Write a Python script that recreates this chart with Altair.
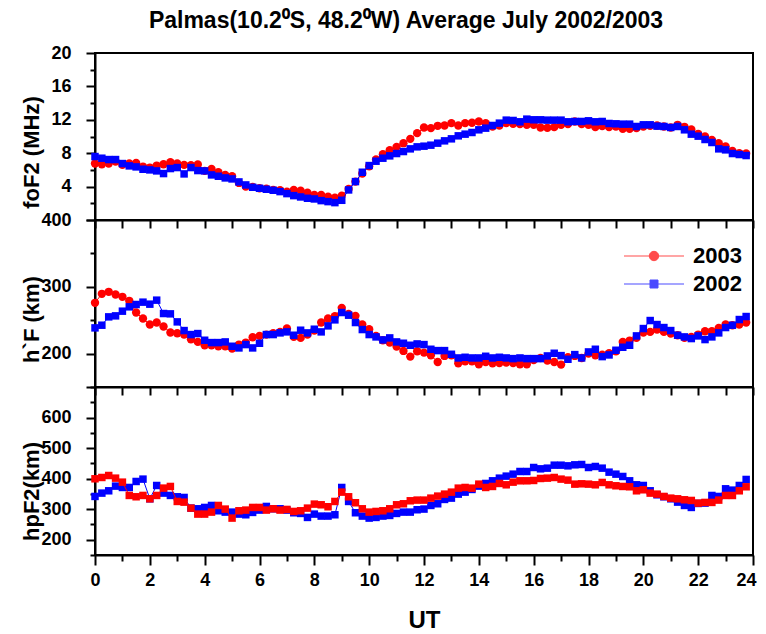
import altair as alt
import pandas as pd

# ---------------- data ----------------
UT = [q / 4 for q in range(96)]  # 15-minute sampling times, 0 .. 23.75 h

FOF2_2003 = [6.76, 6.68, 6.76, 7.0, 6.6, 6.76, 6.84, 6.4, 6.28, 6.52, 6.68, 6.92, 6.76, 6.6, 6.56, 6.64,
             5.88, 6.12, 5.72, 5.4, 5.24, 4.44, 4.0, 3.96, 3.8, 3.76, 3.6, 3.56, 3.4, 3.6, 3.52, 3.28,
             3.0, 3.0, 2.8, 2.68, 2.92, 3.72, 4.6, 5.56, 6.44, 7.24, 7.88, 8.36, 8.76,
             9.2, 9.72, 10.4, 11.08, 11.0, 11.28, 11.32, 11.6, 11.32, 11.6, 11.64, 11.8, 11.6, 11.2, 11.32,
             11.6, 11.52, 11.48, 11.4, 11.4, 11.08, 11.04, 11.12, 11.4, 11.48, 11.8, 11.48, 11.4, 11.12,
             11.24, 11.12, 11.2, 10.92, 10.92, 11.0, 11.2, 11.28, 11.32, 11.2, 11.08, 11.4, 11.16, 10.84,
             10.32, 10.0, 9.6, 9.2, 8.8, 8.28, 8.0, 7.96]
FOF2_2002 = [7.6, 7.4, 7.24, 7.24, 6.76, 6.48, 6.36, 6.08, 6.0, 5.88, 5.56, 6.16, 6.28, 5.52, 6.28, 5.92,
             5.88, 5.4, 5.24, 5.04, 4.92, 4.56, 4.2, 3.92, 3.8, 3.68, 3.56, 3.4, 3.16, 2.92, 2.76, 2.6,
             2.52, 2.32, 2.2, 2.08, 2.36, 3.6, 4.6, 5.72, 6.52, 7.04, 7.4, 7.68, 7.96,
             8.2, 8.52, 8.76, 8.84, 8.96, 9.2, 9.48, 9.72, 10.08, 10.28, 10.48, 10.8, 11.0, 11.32, 11.6,
             11.96, 11.92, 11.76, 12.08, 12.0, 12.0, 11.96, 11.96, 11.96, 11.76, 11.8, 11.8, 11.88, 11.76,
             11.8, 11.56, 11.52, 11.48, 11.48, 11.2, 11.4, 11.4, 11.24, 11.2, 11.08, 11.2, 10.8, 10.28,
             10.04, 9.64, 9.28, 8.52, 8.4, 7.96, 7.84, 7.72]
HF_2003 = [276, 289.5, 292.5, 288.5, 285, 279, 261.5, 252.5, 243.5, 246.5, 240.5, 231.5, 230.5, 228.5,
           221.5, 217.5, 212.5, 212.5, 211, 211, 207.5, 213.5, 216.5, 224.5, 226.5, 228.5, 230.5, 232.5,
           237.5, 225, 223.5, 228.5, 234.5, 246.5, 252.5, 256, 268.5, 259.5, 256.5, 243.5, 236.5, 226.5,
           220, 216.5, 210.5,
           204, 195.5, 203.5, 201.5, 197.5, 187.5, 196.5, 197.5, 185.5, 188.5, 188.5, 184, 187.5, 185.5,
           186, 186.5, 186, 184, 184, 190.5, 193.5, 189.5, 187.5, 183.5, 194.5, 196.5, 193.5, 200, 197.5,
           198.5, 200.5, 203.5, 217.5, 219.5, 223.5, 231.5, 232.5, 236, 232.5, 230, 227.5, 223.5, 225,
           228.5, 233.5, 233.5, 238.5, 243.5, 242.5, 243.5, 246.5]
HF_2002 = [238.5, 242.5, 255, 256.5, 263.5, 270, 273.5, 277, 274, 280, 260, 259.5, 247.5, 234.5, 228.5,
           230, 220, 216.5, 216.5, 217.5, 211, 208.5, 213.5, 208.5, 215.5, 228.5, 228.5, 231, 232.5,
           227.5, 235, 231, 236.5, 232.5, 241.5, 250.5, 261.5, 257.5, 246.5, 236, 228.5, 225, 220.5,
           223.5, 217.5,
           215.5, 212.5, 214.5, 213.5, 206.5, 204.5, 204.5, 199, 193.5, 194.5, 193.5, 193.5, 196, 193.5,
           194.5, 193.5, 192.5, 193.5, 192.5, 192.5, 192.5, 196.5, 200.5, 197, 191.5, 198.5, 193.5,
           202.5, 206.5, 195.5, 198, 205, 209.5, 212.5, 226.5, 237.5, 249.5, 243.5, 239, 234.5, 227.5,
           225, 222.5, 226.5, 221, 225, 231, 239, 242.5, 251, 255.5]
HPF2_2003 = [399.5, 403.8, 410.3, 401.6, 388.5, 345, 340.6, 345, 334, 345, 369, 374.4, 325.3, 323, 303.5,
             283.9, 283.9, 290.4, 312.2, 300.3, 270.8, 294.8, 297, 305.7, 305.7, 297, 301.3, 297, 299.2,
             292.6, 294.8, 303.5, 316.6, 314.4, 307.9, 325.3, 355.8, 340.6, 321, 301.3, 290.4, 292.6,
             294.8, 301.3, 314.4,
             317.7, 327.5, 329.7, 329.7, 336.2, 342.8, 349.3, 355.8, 368.9, 371.1, 368.9, 382, 371.1,
             374.4, 384.2, 379.8, 388.5, 392.9, 392.9, 394, 400.5, 401.6, 403.8, 398.4, 395.1, 382, 383.1,
             382, 379.8, 387.5, 379.8, 376.6, 374.4, 373.3, 360.2, 363.5, 352.6, 349.3, 341.7, 336.2, 334,
             330.8, 328.6, 319.9, 322.1, 322.1, 329.7, 344.9, 344.9, 360.2, 373.3]
HPF2_2002 = [341.7, 352.6, 360.2, 375.5, 371.1, 371.1, 390.7, 398.4, 334, 377.6, 352.6, 345, 340.6, 338.4,
             303.5, 301.3, 305.7, 312.2, 294.8, 290.4, 290.4, 283.9, 281.7, 289.4, 297, 309, 301.3, 301.3,
             297, 288.3, 286.1, 273, 283.9, 277.4, 277.4, 281.7, 371.1, 325.3, 288.3, 277.4, 270.8, 273,
             277.4, 279.5, 286.1,
             290.4, 290.4, 298.1, 300.3, 312.2, 317.7, 331.9, 336.2, 349.3, 355.8, 364.6, 375.5, 384.2,
             392.9, 401.6, 408.2, 414.7, 423.4, 423.4, 436.5, 432.1, 434.3, 444.1, 444.1, 441.9, 445.2,
             446.3, 436.5, 439.8, 434.3, 421.2, 414.7, 407.1, 392.9, 379.8, 377.6, 360.2, 347.1, 340.6, 334,
             323.1, 312.2, 305.7, 318.8, 319.9, 344.9, 341.7, 366.7, 362.4, 377.6, 397.3]

YEARS = ["2003", "2002"]
COLORS = ["#ff0000", "#0000ff"]

HOUR_TICKS = list(range(0, 25))
FOF2_TICKS = list(range(0, 21, 2))
HF_TICKS = list(range(150, 401, 50))
HPF2_TICKS = list(range(150, 701, 50))

TITLE = "Palmas(10.2\u2070S, 48.2\u2070W) Average July 2002/2003"
FONT = "Liberation Sans, Arial, sans-serif"

# legend symbols: a line segment with the marker in the middle
LEGEND_SHAPES = [
    "M-5,0H1M-2.47,0A0.47,0.47,0,1,1,-1.53,0A0.47,0.47,0,1,1,-2.47,0Z",
    "M-5,0H1M-2.4,-0.4H-1.6V0.4H-2.4Z",
]

PLOT_W = 658


def frame(v03, v02):
    return pd.DataFrame({
        "UT": UT + UT,
        "v": v03 + v02,
        "year": [YEARS[0]] * len(v03) + [YEARS[1]] * len(v02),
    })


def panel(df, ydom, yticks, label_test, major_test, ytitle, title_y, height,
          shapes, order, bottom=False, legend=False):
    if bottom:
        xaxis = alt.Axis(values=HOUR_TICKS, labelExpr="datum.value % 2 === 0 ? datum.label : ''",
                         tickSize={"condition": {"test": "datum.value % 2 === 0", "value": 10}, "value": 6},
                         labelAlign={"condition": {"test": "datum.value === 24", "value": "right"},
                                     "value": "center"},
                         labelOffset={"condition": {"test": "datum.value === 24", "value": 3}, "value": 0},
                         labelPadding=6, labelFlush=False, title="UT", titleFontSize=24,
                         titlePadding=19)
    else:
        xaxis = alt.Axis(values=HOUR_TICKS, labels=False, tickSize=8, title=None)
    yaxis = alt.Axis(values=yticks, labelExpr=f"{label_test} ? datum.label : ''",
                     tickSize={"condition": {"test": major_test, "value": 9}, "value": 5},
                     labelPadding=15, title=ytitle, titleX=-52, titleY=title_y,
                     titleAngle=270, titleBaseline="bottom", titleAlign="center")
    x = alt.X("UT:Q", scale=alt.Scale(domain=[0, 24], nice=False, zero=False), axis=xaxis)
    y = alt.Y("v:Q", scale=alt.Scale(domain=ydom, nice=False, zero=False), axis=yaxis)
    layers = []
    for yr in order:
        c = COLORS[YEARS.index(yr)]
        shape, size = shapes[yr]
        base = alt.Chart(df).transform_filter(alt.datum.year == yr)
        layers.append(base.mark_line(color=c, strokeWidth=1).encode(x=x, y=y))
        layers.append(base.mark_point(filled=True, color=c, shape=shape, size=size,
                                      opacity=1, strokeWidth=0).encode(x=x, y=y))
    if legend:
        leg = alt.Legend(title=None, orient="none", legendX=568, legendY=25, padding=0,
                         symbolSize=400, symbolStrokeWidth=1, labelFont=FONT, labelFontSize=22,
                         labelFontWeight="bold", labelColor="black", labelOffset=8, rowPadding=6)
        layers.append(
            alt.Chart(df).transform_filter("false").mark_point(filled=True, size=1).encode(
                x=x, y=y,
                color=alt.Color("year:N", scale=alt.Scale(domain=YEARS, range=COLORS), legend=leg),
                stroke=alt.Stroke("year:N", scale=alt.Scale(domain=YEARS, range=COLORS), legend=leg),
                shape=alt.Shape("year:N", scale=alt.Scale(domain=YEARS, range=LEGEND_SHAPES), legend=leg),
            )
        )
    return alt.layer(*layers).properties(width=PLOT_W, height=height)


mixed = {"2003": ("circle", 70), "2002": ("square", 56)}
squares = {"2003": ("square", 56), "2002": ("square", 56)}

top = panel(frame(FOF2_2003, FOF2_2002), [0, 20], FOF2_TICKS, "(datum.value % 4 === 0 && datum.value > 0)",
            "datum.value % 4 === 0", "foF2 (MHz)", 99, 167, mixed, ["2003", "2002"])
mid = panel(frame(HF_2003, HF_2002), [150, 400], HF_TICKS, "datum.value % 100 === 0",
            "datum.value % 100 === 0", "h`F (km)", 99, 167, mixed, ["2003", "2002"], legend=True)
bot = panel(frame(HPF2_2003, HPF2_2002), [150, 700], HPF2_TICKS,
            "(datum.value % 100 === 0 && datum.value <= 600)", "datum.value % 100 === 0",
            "hpF2(km)", 104, 168, squares, ["2002", "2003"], bottom=True)

chart = alt.vconcat(top, mid, bot, spacing=0, bounds="flush").resolve_scale(
    color="independent", stroke="independent", shape="independent"
).properties(
    title=alt.Title(TITLE, font=FONT, fontSize=23, fontWeight="bold", color="black",
                    offset=10, anchor="middle", dx=18),
    padding={"left": 11, "top": 2, "right": 0, "bottom": -5},
).configure_view(
    stroke="black", strokeWidth=2
).configure_axis(
    domainColor="black", domainWidth=2, tickColor="black", tickWidth=2,
    labelFont=FONT, labelFontSize=18, labelFontWeight="bold", labelColor="black",
    titleFont=FONT, titleFontSize=22, titleFontWeight="bold", titleColor="black", grid=False,
)

chart.save("out.html", embed_options={"renderer": "svg", "actions": False})
